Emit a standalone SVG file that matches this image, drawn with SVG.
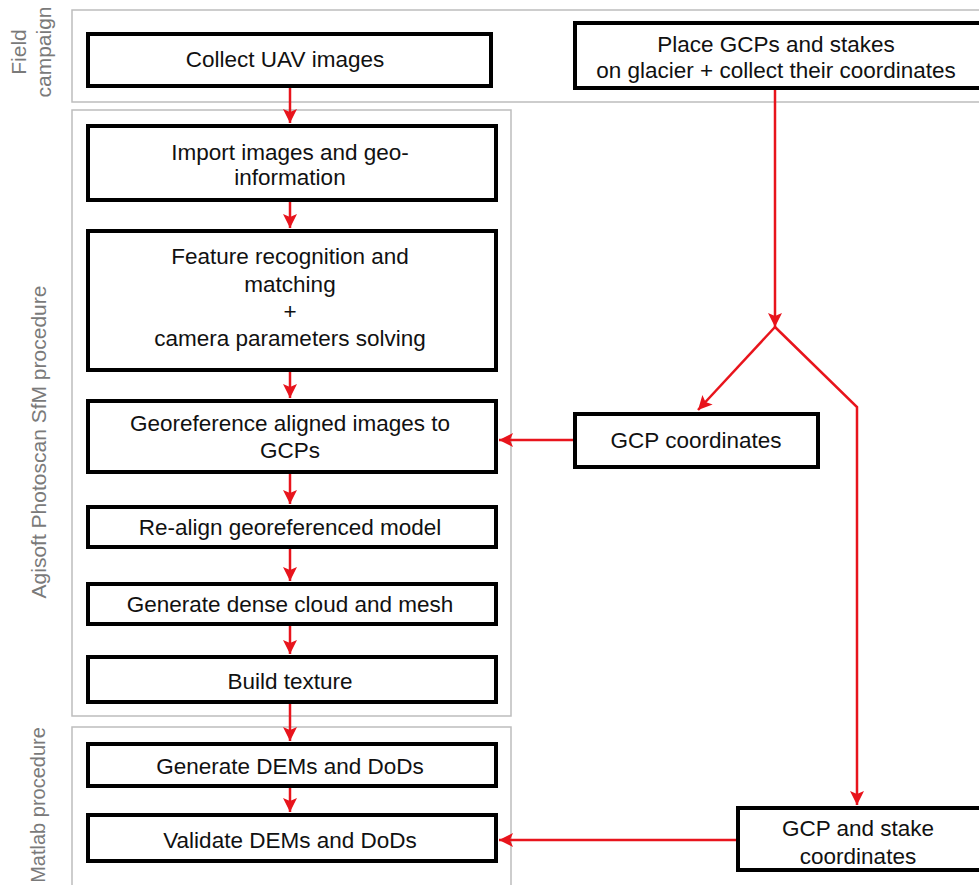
<svg xmlns="http://www.w3.org/2000/svg" width="979" height="885" viewBox="0 0 979 885">
<defs>
<marker id="ah" markerUnits="userSpaceOnUse" markerWidth="16" markerHeight="16" refX="14" refY="7" orient="auto">
<path d="M0,0 L14,7 L0,14 L3,7 Z" fill="#e8141c"/>
</marker>
<style>
.panel{fill:none;stroke:#bdbdbd;stroke-width:1.5}
.box{fill:#fff;stroke:#000;stroke-width:4}
.t{font-family:"Liberation Sans",Arial,sans-serif;font-size:22.5px;fill:#111;text-anchor:middle;dominant-baseline:central}
.lab{font-family:"Liberation Sans",Arial,sans-serif;font-size:21px;fill:#7a7a7a;text-anchor:middle;dominant-baseline:central}
.c{fill:none;stroke:#e8141c;stroke-width:2.5}
</style>
</defs>
<rect width="979" height="885" fill="#fff"/>
<g id="panels">
<rect class="panel" x="72" y="10" width="920" height="92"/>
<rect class="panel" x="72" y="110" width="439" height="606"/>
<rect class="panel" x="72" y="727" width="439" height="160"/>
<text class="lab" transform="translate(18,52) rotate(-90)">Field</text>
<text class="lab" transform="translate(43,52) rotate(-90)">campaign</text>
<text class="lab" transform="translate(38,442) rotate(-90)">Agisoft Photoscan SfM procedure</text>
<text class="lab" transform="translate(38,805)  rotate(-90)" style="font-size:20px">Matlab procedure</text>
</g>
<g id="connectors">
<line class="c" x1="290" y1="88" x2="290" y2="123" marker-end="url(#ah)"/>
<line class="c" x1="290" y1="202" x2="290" y2="228" marker-end="url(#ah)"/>
<line class="c" x1="290" y1="372" x2="290" y2="398" marker-end="url(#ah)"/>
<line class="c" x1="290" y1="474" x2="290" y2="504" marker-end="url(#ah)"/>
<line class="c" x1="290" y1="549" x2="290" y2="581" marker-end="url(#ah)"/>
<line class="c" x1="290" y1="626" x2="290" y2="654" marker-end="url(#ah)"/>
<line class="c" x1="290" y1="704" x2="290" y2="741" marker-end="url(#ah)"/>
<line class="c" x1="290" y1="788" x2="290" y2="812" marker-end="url(#ah)"/>
<line class="c" x1="775" y1="90" x2="775" y2="327" marker-end="url(#ah)"/>
<line class="c" x1="775" y1="327" x2="698" y2="410" marker-end="url(#ah)"/>
<polyline class="c" points="775,327 857,407 857,805" marker-end="url(#ah)"/>
<line class="c" x1="574" y1="440" x2="499" y2="440" marker-end="url(#ah)"/>
<line class="c" x1="737" y1="840" x2="499" y2="840" marker-end="url(#ah)"/>
</g>
<g id="collect"><rect class="box" x="88" y="34" width="403" height="52"/><text class="t" x="285" y="59">Collect UAV images</text></g>
<g id="place"><rect class="box" x="575" y="23" width="410" height="65"/><text class="t" x="776" y="44">Place GCPs and stakes</text><text class="t" x="776" y="70">on glacier + collect their coordinates</text></g>
<g id="import"><rect class="box" x="88" y="126" width="408" height="74"/><text class="t" x="290" y="152">Import images and geo-</text><text class="t" x="290" y="177">information</text></g>
<g id="feature"><rect class="box" x="88" y="231" width="408" height="139"/><text class="t" x="290" y="256">Feature recognition and</text><text class="t" x="290" y="284">matching</text><text class="t" x="290" y="311">+</text><text class="t" x="290" y="338">camera parameters solving</text></g>
<g id="georef"><rect class="box" x="88" y="401" width="408" height="71"/><text class="t" x="290" y="423">Georeference aligned images to</text><text class="t" x="290" y="450">GCPs</text></g>
<g id="gcp"><rect class="box" x="575" y="414" width="243" height="53"/><text class="t" x="696" y="440">GCP coordinates</text></g>
<g id="realign"><rect class="box" x="88" y="507" width="408" height="40"/><text class="t" x="290" y="527">Re-align georeferenced model</text></g>
<g id="dense"><rect class="box" x="88" y="584" width="408" height="40"/><text class="t" x="290" y="604">Generate dense cloud and mesh</text></g>
<g id="texture"><rect class="box" x="88" y="657" width="408" height="45"/><text class="t" x="290" y="681">Build texture</text></g>
<g id="dems"><rect class="box" x="88" y="744" width="408" height="42"/><text class="t" x="290" y="766">Generate DEMs and DoDs</text></g>
<g id="validate"><rect class="box" x="88" y="815" width="408" height="46"/><text class="t" x="290" y="840">Validate DEMs and DoDs</text></g>
<g id="stake"><rect class="box" x="738" y="808" width="245" height="62"/><text class="t" x="858" y="828">GCP and stake</text><text class="t" x="858" y="856">coordinates</text></g>
</svg>
